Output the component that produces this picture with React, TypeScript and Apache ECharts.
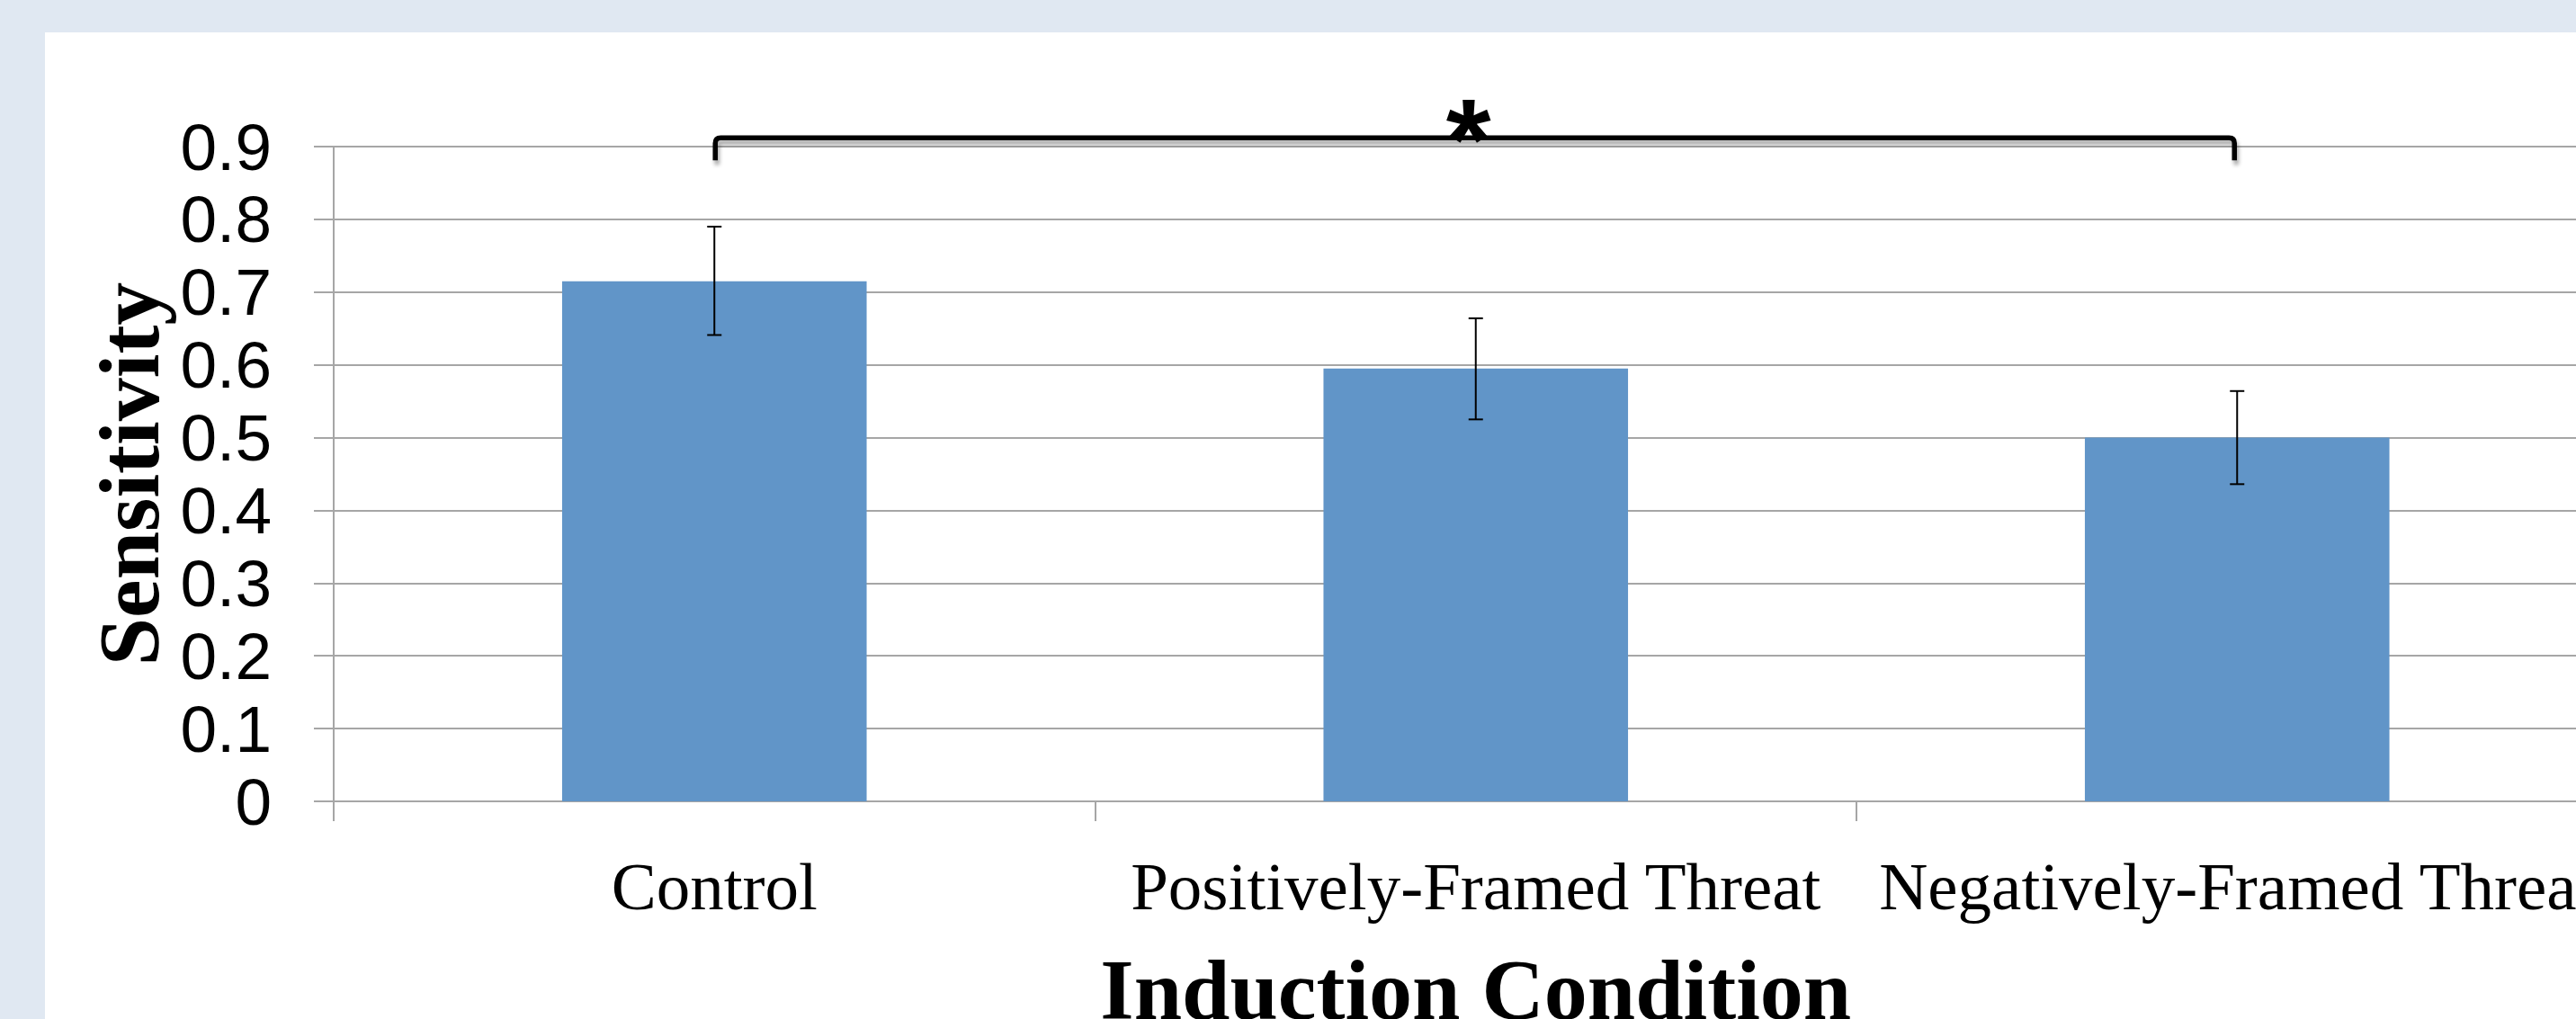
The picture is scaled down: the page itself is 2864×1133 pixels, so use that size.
import React, { useEffect, useRef } from 'react';
import * as echarts from 'echarts';

const categories = ['Control', 'Positively-Framed Threat', 'Negatively-Framed Threat'];
const sensitivity = [0.715, 0.595, 0.5];
const errorLow = [0.641, 0.525, 0.436];
const errorHigh = [0.79, 0.664, 0.564];
const yTickLabels = ['0', '0.1', '0.2', '0.3', '0.4', '0.5', '0.6', '0.7', '0.8', '0.9'];
const yMin = 0;
const yMax = 0.9;
const yStep = 0.1;
// [fromCategoryIndex, toCategoryIndex, bracketTopValue, bracketFootValue]
const bracketSpans = [[0, 2, 0.912, 0.881]];
const bracketLabels = ['*'];

const GRID_LEFT = 371;
const GRID_TOP = 163;
const GRID_WIDTH = 2539.5;
const GRID_HEIGHT = 728;

export default function App() {
  const ref = useRef<HTMLDivElement>(null);

  useEffect(() => {
    if (!ref.current) return;
    const chart = echarts.init(ref.current, undefined, { renderer: 'svg' });
    const gray = '#a6a6a6';

    const option: any = {
      animation: false,
      backgroundColor: '#E0E8F2',
      graphic: [
        {
          type: 'rect',
          x: 50,
          y: 36,
          z: -10,
          silent: true,
          shape: { x: 0, y: 0, width: 2814, height: 1097 },
          style: { fill: '#ffffff' },
        },
      ],
      grid: {
        left: GRID_LEFT,
        top: GRID_TOP,
        width: GRID_WIDTH,
        height: GRID_HEIGHT,
        containLabel: false,
        outerBoundsMode: 'none',
      },
      xAxis: {
        type: 'category',
        data: categories,
        axisLine: { show: true, lineStyle: { color: gray, width: 2 } },
        axisTick: { show: true, length: 22, lineStyle: { color: gray, width: 2 } },
        axisLabel: {
          interval: 0,
          fontFamily: 'Liberation Serif',
          fontSize: 75,
          lineHeight: 75,
          color: '#000',
          margin: 57,
          hideOverlap: false,
        },
        name: 'Induction Condition',
        nameLocation: 'middle',
        nameGap: 161,
        nameMoveOverlap: false,
        nameTextStyle: {
          fontFamily: 'Liberation Serif',
          fontWeight: 'bold',
          fontSize: 96,
          lineHeight: 96,
          color: '#000',
        },
      },
      yAxis: {
        type: 'value',
        min: yMin,
        max: yMax,
        interval: yStep,
        axisLine: { show: true, lineStyle: { color: gray, width: 2 } },
        axisTick: { show: true, length: 22, lineStyle: { color: gray, width: 2 } },
        splitLine: { show: true, lineStyle: { color: gray, width: 2 } },
        axisLabel: {
          formatter: (v: number) => yTickLabels[Math.round(v / yStep)] ?? String(v),
          fontFamily: 'Liberation Sans',
          fontSize: 73,
          color: '#000',
          margin: 69,
          padding: [8, 0, 0, 0],
        },
        name: 'Sensitivity',
        nameLocation: 'middle',
        nameRotate: 90,
        nameGap: 180,
        nameMoveOverlap: false,
        nameTextStyle: {
          fontFamily: 'Liberation Serif',
          fontWeight: 'bold',
          fontSize: 96,
          lineHeight: 96,
          color: '#000',
        },
      },
      series: [
        {
          type: 'bar',
          data: sensitivity,
          barWidth: '40%',
          itemStyle: { color: '#6195C8' },
          silent: true,
          z: 2,
        },
        {
          type: 'custom',
          silent: true,
          clip: false,
          z: 5,
          encode: { x: 0, y: [1, 2] },
          data: categories.map((_, i) => [i, errorLow[i], errorHigh[i]]),
          renderItem: (params: any, api: any) => {
            const lo = api.coord([api.value(0), api.value(1)]);
            const hi = api.coord([api.value(0), api.value(2)]);
            const half = 8;
            const style = { stroke: '#000', lineWidth: 2 };
            return {
              type: 'group',
              children: [
                { type: 'line', z2: 10, shape: { x1: lo[0], y1: lo[1], x2: hi[0], y2: hi[1] }, style },
                { type: 'line', z2: 10, shape: { x1: hi[0] - half, y1: hi[1], x2: hi[0] + half, y2: hi[1] }, style },
                { type: 'line', z2: 10, shape: { x1: lo[0] - half, y1: lo[1], x2: lo[0] + half, y2: lo[1] }, style },
              ],
            };
          },
        },
        {
          type: 'custom',
          silent: true,
          clip: false,
          z: 5,
          encode: { x: [0, 1], y: [2, 3] },
          data: bracketSpans,
          renderItem: (params: any, api: any) => {
            const a = api.coord([api.value(0), api.value(2)]);
            const b = api.coord([api.value(1), api.value(2)]);
            const foot = api.coord([api.value(0), api.value(3)])[1];
            const x1 = a[0] + 1;
            const x2 = b[0] - 3;
            const y = a[1];
            const r = 6;
            const d =
              `M${x1} ${foot} L${x1} ${y + r} Q${x1} ${y} ${x1 + r} ${y} ` +
              `L${x2 - r} ${y} Q${x2} ${y} ${x2} ${y + r} L${x2} ${foot}`;
            return {
              type: 'group',
              children: [
                {
                  type: 'path',
                  shape: { pathData: d },
                  style: {
                    fill: 'none',
                    stroke: '#000',
                    lineWidth: 5.5,
                    shadowColor: 'rgba(0,0,0,0.35)',
                    shadowBlur: 4,
                    shadowOffsetX: 2,
                    shadowOffsetY: 5,
                  },
                },
                {
                  type: 'text',
                  x: (x1 + x2) / 2 - 7,
                  y: y + 1,
                  style: {
                    text: bracketLabels[params.dataIndex],
                    fontFamily: 'Liberation Sans',
                    fontWeight: 'bold',
                    fontSize: 128,
                    fill: '#000',
                    align: 'center',
                    verticalAlign: 'middle',
                  },
                },
              ],
            };
          },
        },
      ],
    };

    chart.setOption(option);
    return () => chart.dispose();
  }, []);

  return (
    <div
      ref={ref}
      style={{ position: 'absolute', left: 0, top: 0, width: 2864, height: 1133 }}
    />
  );
}
